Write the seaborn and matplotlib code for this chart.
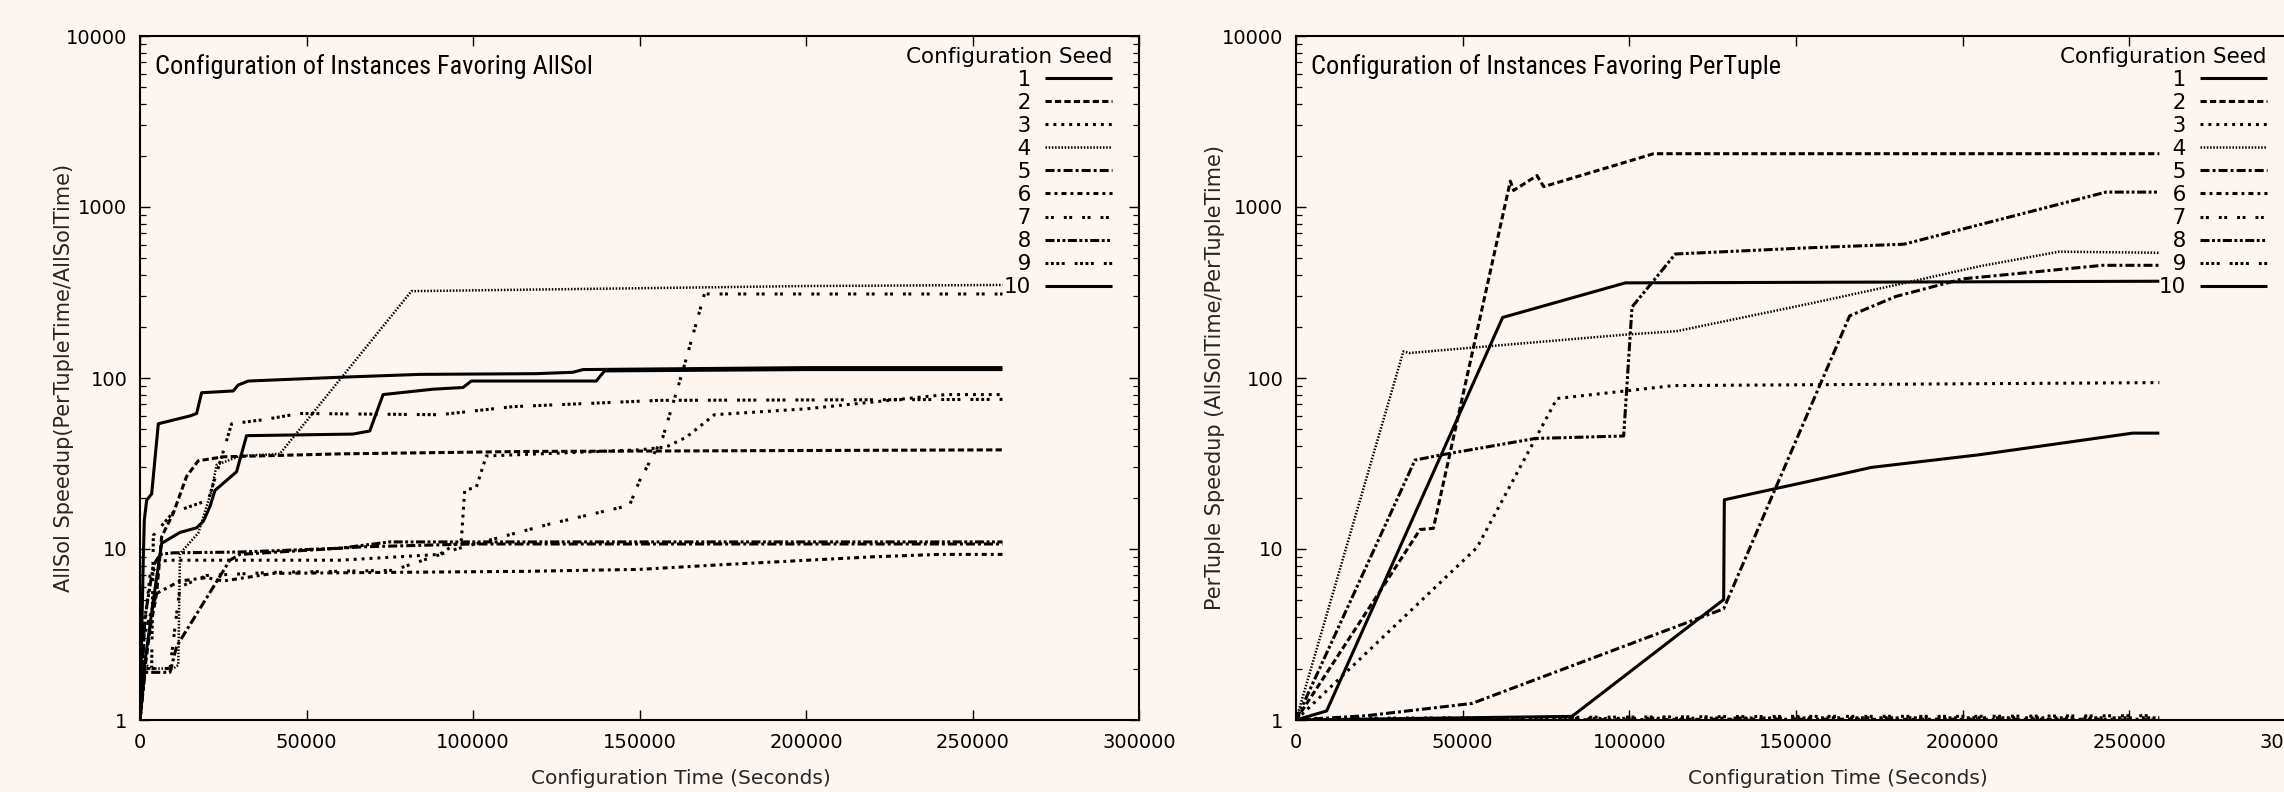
import matplotlib
matplotlib.use("Agg")
import numpy as np
import pandas as pd
import matplotlib.pyplot as plt
import seaborn as sns
from matplotlib import font_manager as fm
from matplotlib.ticker import LogLocator, NullFormatter, StrMethodFormatter, FixedLocator

# ---------------- data: left panel (Favoring AllSol) ----------------
allsol_s1_x = [0, 1500, 4000, 6500, 12000, 17000, 19000, 21000, 22500, 29000, 32000, 64000, 69000, 73000, 88000, 97000, 99500, 137000, 139500, 200000, 259000]
allsol_s1_y = [1, 2.2, 5, 10.8, 12.5, 13.3, 14.5, 17.7, 22, 28.3, 46, 47, 49, 80, 86, 88, 96, 96, 110, 112, 112]
allsol_s2_x = [0, 1500, 3000, 5000, 6500, 10000, 14000, 17500, 25000, 60000, 116000, 259000]
allsol_s2_y = [1, 2, 3.4, 5.5, 11.8, 16.2, 26.6, 32.8, 34.6, 36, 37.2, 38]
allsol_s3_x = [0, 1000, 3000, 6000, 10000, 60000, 90000, 96500, 97500, 101000, 104000, 150000, 158000, 164000, 172500, 200000, 242000, 259000]
allsol_s3_y = [1, 3, 7, 8.5, 8.6, 8.6, 9.3, 11.3, 22, 23, 35, 38, 39.5, 45, 61, 66, 80, 80]
allsol_s4_x = [0, 1000, 3000, 10000, 11500, 12000, 17500, 21500, 23000, 30000, 42000, 81500, 150000, 200000, 259000]
allsol_s4_y = [1, 2.2, 2.0, 2.0, 2.1, 9.4, 12.4, 22, 31, 35, 36, 322, 335, 345, 350]
allsol_s5_x = [0, 1500, 9000, 11000, 27000, 30000, 67000, 100000, 259000]
allsol_s5_y = [1, 1.9, 1.9, 2.7, 8.6, 9.3, 10.3, 10.7, 10.7]
allsol_s6_x = [0, 1000, 5000, 12000, 20000, 25000, 40000, 75000, 115000, 150000, 175000, 220000, 240000, 259000]
allsol_s6_y = [1, 3, 5.5, 6.5, 6.8, 6.5, 7.2, 7.3, 7.4, 7.6, 8.1, 9.0, 9.3, 9.3]
allsol_s7_x = [0, 1000, 9000, 12000, 20000, 40000, 76000, 95000, 123000, 147000, 150000, 157000, 163000, 169500, 259000]
allsol_s7_y = [1, 2, 2, 6, 7, 7.3, 7.5, 10, 14, 18, 25, 45, 110, 310, 310]
allsol_s8_x = [0, 1500, 4000, 6000, 10000, 30000, 60000, 75000, 259000]
allsol_s8_y = [1, 4, 8, 9.3, 9.5, 9.6, 10.1, 11, 11]
allsol_s9_x = [0, 1500, 3500, 4000, 10000, 20500, 26000, 27500, 37000, 48000, 90000, 112000, 156000, 259000]
allsol_s9_y = [1, 2, 2, 12, 16.4, 19.3, 43, 54, 57, 62, 61, 68, 74, 75]
allsol_s10_x = [0, 1000, 1300, 2000, 3500, 5500, 15000, 17000, 18500, 28000, 29500, 32500, 60000, 84000, 119000, 130000, 133000, 200000, 259000]
allsol_s10_y = [1, 9, 14.8, 19.3, 21, 54, 60, 62, 82, 84, 91, 96, 101, 105, 106, 108, 112, 115, 115]

# ---------------- data: right panel (Favoring PerTuple) ----------------
pertuple_s1_x = [0, 82800, 128300, 128500, 154400, 172600, 205100, 251000, 259000]
pertuple_s1_y = [1, 1.05, 5.06, 19.4, 25, 30, 35.6, 47.6, 47.6]
pertuple_s2_x = [0, 27200, 37200, 41200, 64300, 65300, 72300, 74300, 107300, 259000]
pertuple_s2_y = [1, 6.5, 13, 13.2, 1417, 1250, 1527, 1315, 2050, 2050]
pertuple_s3_x = [0, 16200, 54300, 78300, 98300, 113300, 259000]
pertuple_s3_y = [1, 2.0, 10.2, 75.9, 83.8, 90.3, 94]
pertuple_s4_x = [0, 32200, 34000, 98300, 114300, 154400, 180000, 205000, 229000, 259000]
pertuple_s4_y = [1, 143, 140, 179, 188, 273, 350, 450, 548, 540]
pertuple_s5_x = [0, 21200, 52800, 128300, 166100, 180000, 200000, 242000, 259000]
pertuple_s5_y = [1, 1.06, 1.25, 4.47, 231, 300, 380, 456, 456]
pertuple_s6_x = [0, 60000, 130000, 200000, 257000]
pertuple_s6_y = [1, 1.0, 1.01, 1.01, 1.01]
pertuple_s7_x = [0, 50000, 100000, 150000, 200000, 257000]
pertuple_s7_y = [1.02, 1.03, 1.04, 1.05, 1.05, 1.06]
pertuple_s8_x = [0, 35700, 43200, 71800, 98300, 100800, 113800, 154400, 182400, 243000, 259000]
pertuple_s8_y = [1, 33.1, 35.4, 44.3, 45.8, 260, 531, 578, 606, 1222, 1222]
pertuple_s9_x = [0, 80000, 160000, 259000]
pertuple_s9_y = [1, 1.02, 1.03, 1.03]
pertuple_s10_x = [0, 9200, 62000, 98800, 259000]
pertuple_s10_y = [1, 1.13, 226, 360, 368]

SEEDS = [1, 2, 3, 4, 5, 6, 7, 8, 9, 10]
LEFT_TITLE = "Configuration of Instances Favoring AllSol"
RIGHT_TITLE = "Configuration of Instances Favoring PerTuple"
LEFT_YLABEL = "AllSol Speedup(PerTupleTime/AllSolTime)"
RIGHT_YLABEL = "PerTuple Speedup (AllSolTime/PerTupleTime)"
XLABEL = "Configuration Time (Seconds)"
LEGEND_TITLE = "Configuration Seed"
X_TICKS = [0, 50000, 100000, 150000, 200000, 250000, 300000]
Y_TICKS = [1, 10, 100, 1000, 10000]

left_series = [
    (allsol_s1_x, allsol_s1_y), (allsol_s2_x, allsol_s2_y), (allsol_s3_x, allsol_s3_y),
    (allsol_s4_x, allsol_s4_y), (allsol_s5_x, allsol_s5_y), (allsol_s6_x, allsol_s6_y),
    (allsol_s7_x, allsol_s7_y), (allsol_s8_x, allsol_s8_y), (allsol_s9_x, allsol_s9_y),
    (allsol_s10_x, allsol_s10_y),
]
right_series = [
    (pertuple_s1_x, pertuple_s1_y), (pertuple_s2_x, pertuple_s2_y), (pertuple_s3_x, pertuple_s3_y),
    (pertuple_s4_x, pertuple_s4_y), (pertuple_s5_x, pertuple_s5_y), (pertuple_s6_x, pertuple_s6_y),
    (pertuple_s7_x, pertuple_s7_y), (pertuple_s8_x, pertuple_s8_y), (pertuple_s9_x, pertuple_s9_y),
    (pertuple_s10_x, pertuple_s10_y),
]

# ---------------- style ----------------
BG = "#fdf6f0"
sns.set_style("ticks")
plt.rcParams.update({
    "font.family": ["DejaVu Sans"],
    "lines.scale_dashes": False,
    "axes.edgecolor": "black",
    "text.color": "black",
    "xtick.color": "black",
    "ytick.color": "black",
})

names = {f.name for f in fm.fontManager.ttflist}
NARROW = next((n for n in ["Liberation Sans Narrow", "Roboto Condensed", "Open Sans Condensed", "DejaVu Sans"]
               if n in names), "DejaVu Sans")

labels_str = [str(s) for s in SEEDS]
DASHES = {
    "1": "",
    "2": (4.5, 2.3),
    "3": (2.1, 3.6),
    "4": (1.1, 1.2),
    "5": (6.5, 2.2, 2.1, 2.2),
    "6": (3.6, 2.9, 2.1, 2.9),
    "7": (2.1, 1.8, 2.1, 7.2),
    "8": (6.5, 1.8, 2.1, 1.8, 2.1, 1.8),
    "9": (2.1, 1.8, 2.1, 1.8, 2.1, 1.8, 2.1, 7.2),
    "10": "",
}
LW = {"4": 1.8}
PALETTE = {k: "black" for k in labels_str}


def frame_from(series):
    rows = []
    for seed, (xs, ys) in zip(SEEDS, series):
        for i, (x, y) in enumerate(zip(xs, ys)):
            rows.append({"seed": str(seed), "time": float(x), "speedup": float(y), "order": i})
    return pd.DataFrame(rows)


fig = plt.figure(figsize=(22.84, 7.92), dpi=100)
fig.patch.set_facecolor(BG)
W, H = 2284.0, 792.0
ax_left = fig.add_axes([140 / W, 72 / H, 999 / W, 684 / H])
ax_right = fig.add_axes([1296 / W, 72 / H, 1000 / W, 684 / H])

titles = []
for ax, series, title, ylabel, lab_x, leg_x in [
    (ax_left, left_series, LEFT_TITLE, LEFT_YLABEL, -0.066, 1 - 27 / 999),
    (ax_right, right_series, RIGHT_TITLE, RIGHT_YLABEL, -0.071, 1 - 29 / 1000),
]:
    ax.set_facecolor(BG)
    df = frame_from(series)
    sns.lineplot(data=df, x="time", y="speedup", hue="seed", style="seed",
                 hue_order=labels_str, style_order=labels_str, palette=PALETTE,
                 dashes=DASHES, estimator=None, sort=False, legend=False,
                 linewidth=2.2, ax=ax)
    lines = list(ax.lines)[:len(SEEDS)]
    for ln, key in zip(lines, labels_str):
        ln.set_linewidth(LW.get(key, 2.2))
        ln.set_dash_capstyle("butt")
        ln.set_solid_capstyle("butt")

    ax.set_yscale("log")
    ax.set_xlim(0, 300000)
    ax.set_ylim(1, 10000)
    ax.xaxis.set_major_locator(FixedLocator(X_TICKS))
    ax.xaxis.set_major_formatter(StrMethodFormatter("{x:.0f}"))
    ax.yaxis.set_major_locator(FixedLocator(Y_TICKS))
    ax.yaxis.set_major_formatter(StrMethodFormatter("{x:.0f}"))
    ax.yaxis.set_minor_locator(LogLocator(base=10, subs=np.arange(2, 10)))
    ax.yaxis.set_minor_formatter(NullFormatter())
    ax.tick_params(axis="both", which="major", direction="in", length=7.5, width=1.0,
                   top=True, right=True, labelsize=14, pad=9)
    ax.tick_params(axis="both", which="minor", direction="in", length=4.5, width=0.9,
                   top=True, right=True)
    for sp in ax.spines.values():
        sp.set_linewidth(1.5)
        sp.set_color("black")

    ax.set_xlabel(XLABEL, fontsize=14.5)
    ax.xaxis.set_label_coords(0.5416, -0.071)
    ax.set_ylabel(ylabel, fontsize=15)
    ax.yaxis.set_label_coords(lab_x, 0.5)

    t = ax.text(0.015, 0.9444, title, transform=ax.transAxes, ha="left", va="baseline",
                fontsize=20, family=NARROW)
    titles.append(t)

    leg_labels = [f"{s:>2}".replace(" ", "\u2007") for s in SEEDS]
    leg = ax.legend(lines, leg_labels, title=LEGEND_TITLE, loc="upper right",
                    bbox_to_anchor=(leg_x, 0.984), borderaxespad=0, borderpad=0,
                    frameon=False, markerfirst=False, handlelength=3.1,
                    handletextpad=0.65, labelspacing=0.14, fontsize=15.5,
                    title_fontsize=15.5, alignment="right")

# fit the condensed panel title to the reference width
fig.canvas.draw()
renderer = fig.canvas.get_renderer()
w = titles[0].get_window_extent(renderer).width
size = min(24.0, 20 * 435.0 / w)
for t in titles:
    t.set_fontsize(size)

fig.savefig("out.png", dpi=100, facecolor=BG)
